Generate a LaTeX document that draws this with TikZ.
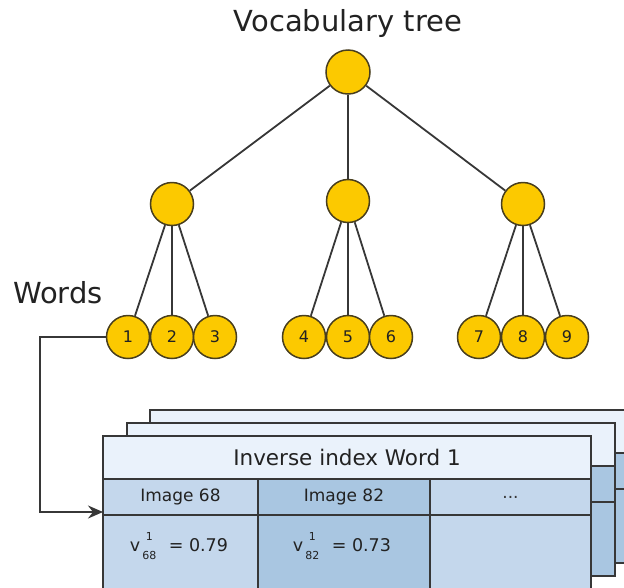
\documentclass[tikz,border=0pt]{standalone}
\usepackage{fontspec}
\setmainfont{DejaVu Sans}
\usetikzlibrary{arrows.meta}

\definecolor{gold}{RGB}{252,201,0}
\definecolor{goldedge}{RGB}{72,62,30}
\definecolor{hdr}{RGB}{234,242,251}
\definecolor{cellA}{RGB}{196,215,236}
\definecolor{cellB}{RGB}{169,198,225}
\definecolor{ink}{RGB}{34,34,34}
\definecolor{wire}{RGB}{55,55,55}

% weight with stacked super- and subscript
\newcommand\wgt[2]{v\hspace{2.5pt}{\fontsize{11}{11}\selectfont
  \rlap{\makebox[13pt][c]{\raisebox{10.5pt}{#1}}}\makebox[13pt][c]{\raisebox{-8.5pt}{#2}}}}

\tikzset{
  treenode/.style={circle, draw=goldedge, line width=1.5pt, fill=gold,
    inner sep=0pt, text=ink, font=\fontsize{16}{16}\selectfont},
  root/.style={treenode, minimum size=44pt},
  inner/.style={treenode, minimum size=43pt},
  leaf/.style={treenode, minimum size=43pt},
  edge/.style={draw=wire, line width=1.8pt},
  conn/.style={draw=wire, line width=1.6pt, -{Stealth[length=15pt,width=13pt,inset=5pt]}},
  tbl/.style={draw=wire, line width=1.5pt},
  cell/.style={rectangle, draw=wire, line width=1.5pt, inner sep=0pt,
    text=ink, font=\fontsize{17}{17}\selectfont},
  title/.style={text=ink, font=\fontsize{29}{29}\selectfont},
  celltext/.style={text=ink, font=\fontsize{17.5}{17.5}\selectfont, anchor=base},
}

\begin{document}
\begin{tikzpicture}[x=1pt,y=-1pt]
\useasboundingbox (0,0) rectangle (624,587);
\clip (0,0) rectangle (624,587);

% titles
\node[title] (ttree) at (348,23) {Vocabulary tree};
\node[title] (twords) at (58,293) {Words};

% tree nodes
\node[root] (r) at (348,72) {};
\node[inner] (m1) at (172,204) {};
\node[inner] (m2) at (348,201) {};
\node[inner] (m3) at (523,204) {};
\foreach \i/\x in {1/128,2/172,3/215,4/304,5/348,6/391,7/479,8/523,9/567}
  \node[leaf] (l\i) at (\x,337) {\i};

% tree edges
\foreach \m in {m1,m2,m3} \draw[edge] (r) -- (\m);
\foreach \i in {1,2,3} \draw[edge] (m1) -- (l\i);
\foreach \i in {4,5,6} \draw[edge] (m2) -- (l\i);
\foreach \i in {7,8,9} \draw[edge] (m3) -- (l\i);

% stacked index tables behind the front one
\foreach \dx/\dy in {47/-26, 24/-13} {
  \begin{scope}[shift={(\dx,\dy)}]
    \filldraw[tbl, fill=hdr] (103,436) rectangle (591,479);
    \filldraw[tbl, fill=cellB] (103,479) rectangle (591,515);
    \filldraw[tbl, fill=cellB] (103,515) rectangle (591,589);
  \end{scope}
}

% front table: inverse index of word 1
\node[cell, fill=hdr, minimum width=488pt, minimum height=43pt,
  font=\fontsize{21.5}{21.5}\selectfont] (hd) at (347,457.5) {Inverse index Word 1};
\node[cell, fill=cellA, minimum width=155pt, minimum height=36pt] (c1) at (180.5,497) {Image 68};
\node[cell, fill=cellB, minimum width=172pt, minimum height=36pt] (c2) at (344,497) {Image 82};
\node[cell, fill=cellA, minimum width=161pt, minimum height=36pt, text=wire] (c3) at (510.5,497) {...};
\node[cell, fill=cellA, minimum width=155pt, minimum height=74pt] (d1) at (180.5,552) {};
\node[cell, fill=cellB, minimum width=172pt, minimum height=74pt] (d2) at (344,552) {};
\node[cell, fill=cellA, minimum width=161pt, minimum height=74pt] (d3) at (510.5,552) {};
\node[celltext] (w1) at (179,551) {\wgt{1}{68}\hspace{13pt}= 0.79};
\node[celltext] (w2) at (342,551) {\wgt{1}{82}\hspace{13pt}= 0.73};

% link from word 1 to its inverse index
\coordinate (entry) at (103,512);
\draw[conn] (l1.west) -- (40,337) |- (entry);
\end{tikzpicture}
\end{document}
